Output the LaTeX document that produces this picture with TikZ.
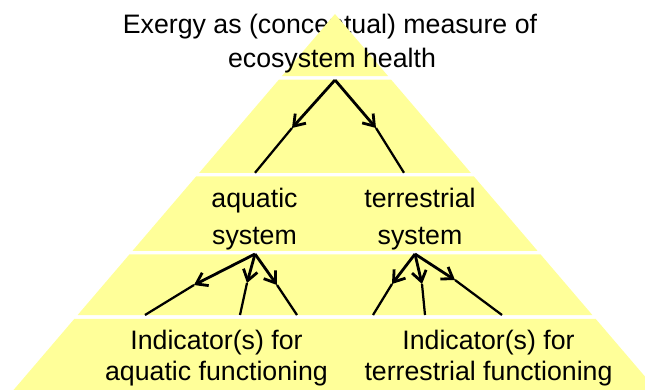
\documentclass[tikz,border=0pt]{standalone}
\usepackage{fontspec}
\setmainfont{Liberation Sans}
\usepackage{tikz}
\usetikzlibrary{arrows.meta}
\definecolor{pyryellow}{RGB}{255,255,153}
\tikzset{
  band/.style={fill=pyryellow, draw=none},
  lbl/.style={font=\fontsize{19}{26}\selectfont, align=center, inner sep=0pt, anchor=base},
  ind/.style={lbl, font=\fontsize{19}{22}\selectfont},
  arr/.style={->, line width=2pt},
  tail/.style={line width=1.6pt}
}
\begin{document}
\begin{tikzpicture}[>={Straight Barb[length=2.6mm,width=3.6mm]}]
\useasboundingbox (0,0) rectangle (16.125,-9.75);
\clip (0,0) rectangle (16.125,-9.75);
\node[lbl] (ttl1) at (8.25,-0.825) {Exergy as (conceptual) measure of};
\foreach \yt/\yb in {0.35/1.9, 1.99/4.32, 4.41/6.27, 6.36/7.875, 7.97/10}
  \fill[band] ({8.375-0.855*(\yt-0.35)},-\yt) -- ({8.375+0.855*(\yt-0.35)},-\yt)
    -- ({8.375+0.855*(\yb-0.35)},-\yb) -- ({8.375-0.855*(\yb-0.35)},-\yb) -- cycle;
\node[lbl] (ttl2) at (8.3,-1.675) {ecosystem health};
\node[lbl] (aqs) at (6.3625,-6.1) {aquatic\\system};
\node[lbl] (tes) at (10.5,-6.1) {terrestrial\\system};
\node[ind] (aqi) at (5.4125,-9.5) {Indicator(s) for\\aquatic functioning};
\node[ind] (tei) at (12.2125,-9.5) {Indicator(s) for\\terrestrial functioning};
\coordinate (eh) at (8.375,-2.0);
\coordinate (eht1) at (7.3,-3.2); \coordinate (ehe1) at (6.375,-4.32);
\coordinate (eht2) at (9.4,-3.2); \coordinate (ehe2) at (10.1,-4.32);
\draw[arr] (eh) -- (eht1); \draw[tail] (eht1) -- (ehe1);
\draw[arr] (eh) -- (eht2); \draw[tail] (eht2) -- (ehe2);
\coordinate (aq) at (6.375,-6.35);
\coordinate (aqt1) at (4.85,-7.125); \coordinate (aqe1) at (3.625,-7.875);
\coordinate (aqt2) at (6.175,-7.075); \coordinate (aqe2) at (6.0,-7.875);
\coordinate (aqt3) at (6.925,-7.125); \coordinate (aqe3) at (7.425,-7.875);
\draw[arr] (aq) -- (aqt1); \draw[tail] (aqt1) -- (aqe1);
\draw[arr] (aq) -- (aqt2); \draw[tail] (aqt2) -- (aqe2);
\draw[arr] (aq) -- (aqt3); \draw[tail] (aqt3) -- (aqe3);
\coordinate (te) at (10.375,-6.35);
\coordinate (tet1) at (9.8,-7.1); \coordinate (tee1) at (9.325,-7.875);
\coordinate (tet2) at (10.55,-7.1); \coordinate (tee2) at (10.625,-7.875);
\coordinate (tet3) at (11.375,-7.0); \coordinate (tee3) at (12.55,-7.875);
\draw[arr] (te) -- (tet1); \draw[tail] (tet1) -- (tee1);
\draw[arr] (te) -- (tet2); \draw[tail] (tet2) -- (tee2);
\draw[arr] (te) -- (tet3); \draw[tail] (tet3) -- (tee3);
\end{tikzpicture}
\end{document}
